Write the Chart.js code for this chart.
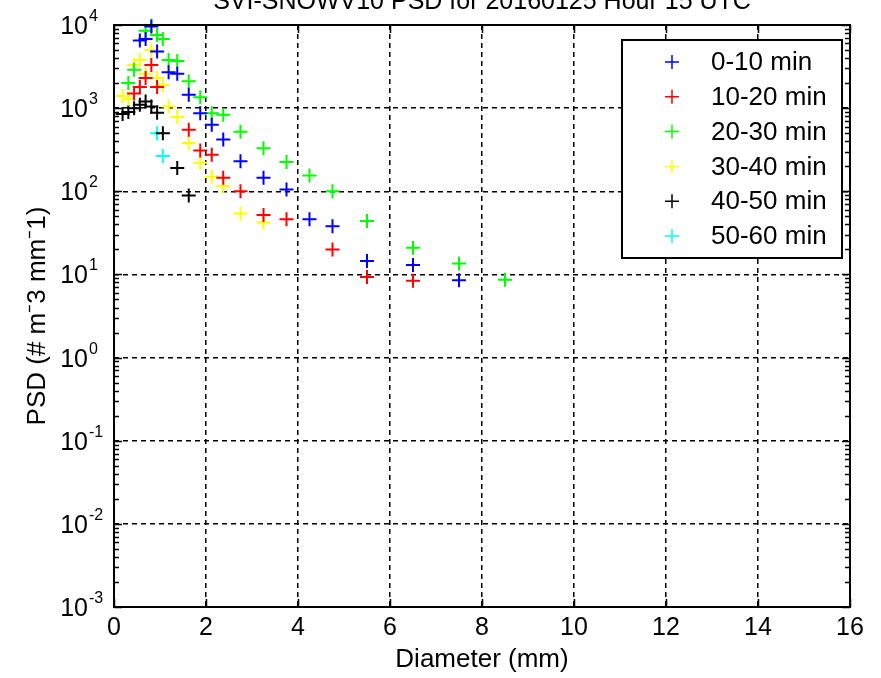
<!DOCTYPE html>
<html>
<head>
<meta charset="utf-8">
<script src="https://cdn.jsdelivr.net/npm/chart.js@4.4.1/dist/chart.umd.min.js"></script>
<style>
  html, body { margin: 0; padding: 0; background: #fff; }
  #wrap { position: relative; width: 881px; height: 678px; overflow: hidden; }
  #psd { position: absolute; left: 0; top: -14px; }
</style>
</head>
<body>
<div id="wrap"><canvas id="psd" width="881" height="692"></canvas></div>
<script>
"use strict";

// data (diameter in mm, PSD in # m^-3 mm^-1)
var diam0010 = [0.562, 0.687, 0.812, 0.937, 1.187, 1.375, 1.625, 1.875, 2.125, 2.375, 2.75, 3.25, 3.75, 4.25, 4.75, 5.5, 6.5, 7.5];
var psd0010 = [6500, 6800, 9600, 4800, 2700, 2600, 1450, 870, 630, 420, 230, 145, 105, 46, 38, 14.5, 13, 8.5];

var diam1020 = [0.437, 0.562, 0.687, 0.812, 0.937, 1.625, 1.875, 2.125, 2.375, 2.75, 3.25, 3.75, 4.75, 5.5, 6.5];
var psd1020 = [1500, 1800, 2300, 3300, 1800, 550, 310, 275, 145, 100, 52, 46, 20, 9.3, 8.4];

var diam2030 = [0.312, 0.437, 0.687, 0.812, 0.937, 1.062, 1.187, 1.375, 1.625, 1.875, 2.125, 2.375, 2.75, 3.25, 3.75, 4.25, 4.75, 5.5, 6.5, 7.5, 8.5];
var psd2030 = [2000, 2900, 8500, 9800, 7600, 6800, 3800, 3700, 2100, 1350, 870, 830, 520, 330, 225, 155, 100, 44, 21, 13.5, 8.6];

var diam3040 = [0.187, 0.312, 0.437, 0.562, 0.687, 0.812, 0.937, 1.062, 1.187, 1.375, 1.625, 1.875, 2.125, 2.375, 2.75, 3.25];
var psd3040 = [1400, 1300, 3300, 3800, 2600, 5000, 2300, 1900, 1050, 780, 380, 220, 150, 115, 54, 42];

var diam4050 = [0.187, 0.312, 0.437, 0.562, 0.687, 0.812, 0.937, 1.062, 1.375, 1.625];
var psd4050 = [850, 900, 1000, 1100, 1200, 1050, 880, 500, 190, 89];

var diam5060 = [0.937, 1.062];
var psd5060 = [500, 265];

var seriesLabels = ["0-10 min", "10-20 min", "20-30 min", "30-40 min", "40-50 min", "50-60 min"];
var seriesColors = ["#0000ff", "#ff0000", "#00ff00", "#ffff00", "#000000", "#00ffff"];
var seriesX = [diam0010, diam1020, diam2030, diam3040, diam4050, diam5060];
var seriesY = [psd0010, psd1020, psd2030, psd3040, psd4050, psd5060];

var xTickValues = [0, 2, 4, 6, 8, 10, 12, 14, 16];
var yExponents = [-3, -2, -1, 0, 1, 2, 3, 4];

var titleText = "SVI-SNOWV10 PSD for 20160125 Hour 15 UTC";
var fontName = "'Liberation Sans', Arial, sans-serif";

function isDecade(v) {
  var l = Math.log10(v);
  return Math.abs(l - Math.round(l)) < 1e-6;
}

var datasets = seriesLabels.map(function (lab, i) {
  return {
    label: lab,
    data: seriesX[i].map(function (d, j) { return { x: d, y: seriesY[i][j] }; }),
    pointStyle: "cross",
    pointRadius: 7,
    pointHoverRadius: 7,
    pointBorderWidth: 2,
    borderColor: seriesColors[i],
    backgroundColor: seriesColors[i],
    showLine: false,
    clip: false,
  };
});

// box, inward ticks, 10^n labels and legend
var matlabAxes = {
  id: "matlabAxes",
  afterDraw: function (chart) {
    var ctx = chart.ctx;
    var a = chart.chartArea;
    var xs = chart.scales.x;
    var ys = chart.scales.y;
    ctx.save();
    ctx.strokeStyle = "#000";
    ctx.lineWidth = 1.5;
    ctx.beginPath();
    xTickValues.forEach(function (v) {
      var px = Math.round(xs.getPixelForValue(v)) + 0.5;
      ctx.moveTo(px, a.bottom); ctx.lineTo(px, a.bottom - 8);
      ctx.moveTo(px, a.top); ctx.lineTo(px, a.top + 8);
    });
    yExponents.forEach(function (e) {
      for (var m = 1; m <= 9; m++) {
        var v = m * Math.pow(10, e);
        if (v > 1e4) break;
        var py = Math.round(ys.getPixelForValue(v)) + 0.5;
        var len = m === 1 ? 8 : 5;
        ctx.moveTo(a.left, py); ctx.lineTo(a.left + len, py);
        ctx.moveTo(a.right, py); ctx.lineTo(a.right - len, py);
      }
    });
    ctx.stroke();

    ctx.lineWidth = 2;
    ctx.strokeRect(a.left, a.top, a.right - a.left, a.bottom - a.top);

    // y tick labels
    ctx.fillStyle = "#000";
    ctx.textBaseline = "alphabetic";
    yExponents.forEach(function (e) {
      var py = ys.getPixelForValue(Math.pow(10, e));
      ctx.font = "25px " + fontName;
      ctx.textAlign = "right";
      ctx.fillText("10", 88, py + 9);
      ctx.font = "16px " + fontName;
      ctx.textAlign = "left";
      ctx.fillText(String(e), 89, py - 4);
    });

    // legend
    var lw = 220, lh = 218;
    var lx = a.right - 228, ly = a.top + 15;
    ctx.fillStyle = "#fff";
    ctx.fillRect(lx, ly, lw, lh);
    ctx.lineWidth = 2;
    ctx.strokeStyle = "#000";
    ctx.strokeRect(lx, ly, lw, lh);
    ctx.font = "26px " + fontName;
    ctx.textBaseline = "middle";
    ctx.textAlign = "left";
    seriesLabels.forEach(function (lab, i) {
      var cy = ly + 22 + i * 34.8;
      var cx = lx + 50;
      ctx.strokeStyle = seriesColors[i];
      ctx.lineWidth = 1.5;
      ctx.beginPath();
      ctx.moveTo(cx - 7, cy); ctx.lineTo(cx + 7, cy);
      ctx.moveTo(cx, cy - 7); ctx.lineTo(cx, cy + 7);
      ctx.stroke();
      ctx.fillStyle = "#000";
      ctx.fillText(lab, lx + 89, cy + 1);
    });
    ctx.restore();
  },
};

var ctx1 = document.getElementById("psd").getContext("2d");
var psdChart = new Chart(ctx1, {
  type: "scatter",
  data: { datasets: datasets },
  plugins: [matlabAxes],
  options: {
    responsive: false,
    animation: false,
    events: [],
    layout: { padding: { left: 0, right: 31, top: 0, bottom: 0 } },
    plugins: {
      legend: { display: false },
      tooltip: { enabled: false },
      title: {
        display: true,
        fullSize: false,
        text: titleText,
        color: "#000",
        font: { family: fontName, size: 25, weight: "normal" },
        padding: { top: 1, bottom: 8 },
      },
    },
    scales: {
      x: {
        type: "linear",
        min: 0,
        max: 16,
        afterFit: function (s) { s.height = 71; },
        afterBuildTicks: function (s) {
          s.ticks = xTickValues.map(function (v) { return { value: v }; });
        },
        border: { display: false, dash: [5, 4] },
        grid: {
          drawTicks: false,
          lineWidth: 1.5,
          color: function (c) {
            var v = c.tick ? c.tick.value : 0;
            return v > 0 && v < 16 ? "#000" : "rgba(0,0,0,0)";
          },
        },
        ticks: {
          color: "#000",
          padding: 6,
          maxRotation: 0,
          font: { family: fontName, size: 25 },
        },
        title: {
          display: true,
          text: "Diameter (mm)",
          color: "#000",
          font: { family: fontName, size: 26 },
          padding: { top: 0, bottom: 3 },
        },
      },
      y: {
        type: "logarithmic",
        min: 1e-3,
        max: 1e4,
        afterFit: function (s) { s.width = 114; },
        border: { display: false, dash: [5, 4] },
        grid: {
          drawTicks: false,
          lineWidth: 1.5,
          color: function (c) {
            var v = c.tick ? c.tick.value : 1;
            return isDecade(v) && v > 1e-3 && v < 1e4 ? "#000" : "rgba(0,0,0,0)";
          },
        },
        ticks: { display: false },
        title: {
          display: true,
          text: "PSD (# m\u207B3 mm\u207B1)",
          color: "#000",
          font: { family: fontName, size: 26 },
          padding: { top: 22, bottom: 0 },
        },
      },
    },
  },
});
</script>
</body>
</html>
